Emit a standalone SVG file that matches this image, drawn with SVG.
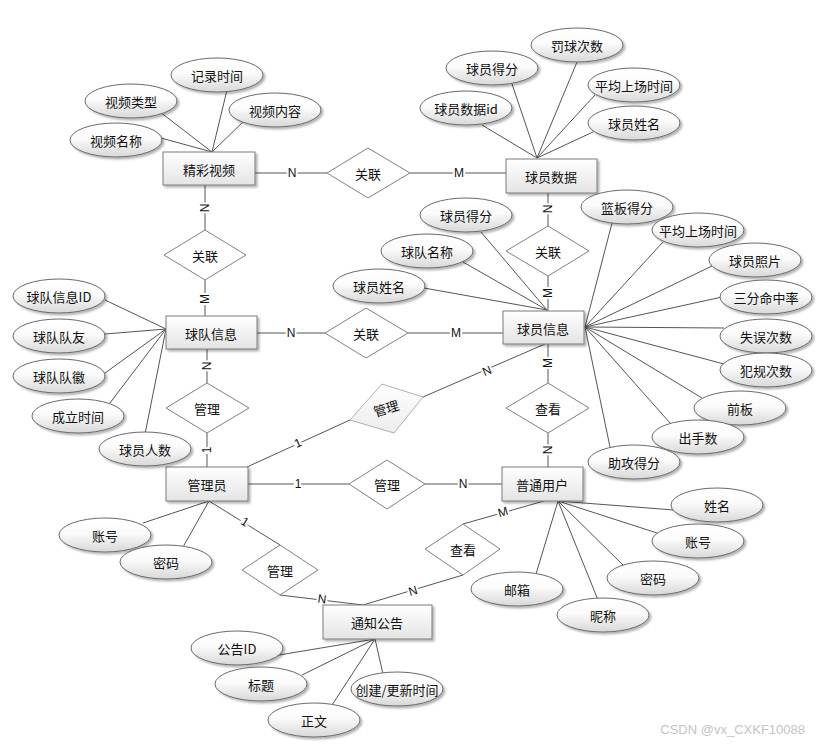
<svg xmlns="http://www.w3.org/2000/svg" width="822" height="745" viewBox="0 0 822 745">
<defs>
<linearGradient id="gRect" x1="0" y1="0" x2="0" y2="1"><stop offset="0" stop-color="#ffffff"/><stop offset="1" stop-color="#e4e4e4"/></linearGradient>
<linearGradient id="gEll" x1="0" y1="0" x2="0" y2="1"><stop offset="0" stop-color="#ffffff"/><stop offset="0.45" stop-color="#fbfbfb"/><stop offset="1" stop-color="#d8d8d8"/></linearGradient>
<linearGradient id="gDia" x1="0" y1="0" x2="0" y2="1"><stop offset="0" stop-color="#ffffff"/><stop offset="1" stop-color="#ececec"/></linearGradient>
<filter id="sh" x="-20%" y="-20%" width="140%" height="150%"><feDropShadow dx="2" dy="2" stdDeviation="1.2" flood-color="#000" flood-opacity="0.3"/></filter>
</defs>
<style>
.ent rect{fill:url(#gRect);stroke:#7a7a7a;stroke-width:1;filter:url(#sh)}
.att ellipse{fill:url(#gEll);stroke:#6a6a6a;stroke-width:1;filter:url(#sh)}
.rel polygon{fill:#fff;stroke:#808080;stroke-width:1}
.rel.light polygon{fill:url(#gDia);stroke:#b0b0b0}
text{font-family:"Noto Sans CJK SC","Noto Sans",sans-serif;font-size:13px;fill:#111;text-anchor:middle;dominant-baseline:central}
.conn line{stroke:#555;stroke-width:1}
.lb{font-family:"Liberation Sans",Arial,sans-serif;font-size:12px;stroke:#fff;stroke-width:4;paint-order:stroke;fill:#111}
.wm{font-family:"Liberation Sans",Arial,sans-serif;font-size:13px;fill:#c4c4c4;text-anchor:end}
</style>
<rect width="822" height="745" fill="#fff"/>
<g id="connectors" class="conn">
<line x1="255" y1="173" x2="327" y2="173"/>
<line x1="410" y1="173" x2="506" y2="173"/>
<line x1="205" y1="185" x2="205" y2="230"/>
<line x1="205" y1="280" x2="205" y2="316"/>
<line x1="257" y1="333" x2="325" y2="333"/>
<line x1="408" y1="333" x2="503" y2="333"/>
<line x1="207" y1="349" x2="207" y2="383"/>
<line x1="207" y1="433" x2="207" y2="467"/>
<line x1="248" y1="484" x2="349" y2="484"/>
<line x1="425" y1="484" x2="502" y2="484"/>
<line x1="548" y1="193" x2="548" y2="226"/>
<line x1="548" y1="276" x2="548" y2="311"/>
<line x1="548" y1="344" x2="548" y2="383"/>
<line x1="548" y1="433" x2="548" y2="467"/>
<line x1="247" y1="467" x2="350" y2="420"/>
<line x1="423" y1="397" x2="545" y2="344"/>
<line x1="209" y1="501" x2="280" y2="545"/>
<line x1="280" y1="595" x2="363" y2="605"/>
<line x1="544" y1="501" x2="463" y2="524"/>
<line x1="463" y1="575" x2="363" y2="605"/>
<!-- attribute lines -->
<line x1="212" y1="152" x2="150" y2="135"/>
<line x1="212" y1="152" x2="160" y2="112"/>
<line x1="212" y1="152" x2="227" y2="90"/>
<line x1="212" y1="152" x2="245" y2="120"/>
<line x1="537" y1="158" x2="482" y2="125"/>
<line x1="537" y1="158" x2="512" y2="84"/>
<line x1="537" y1="158" x2="577" y2="62"/>
<line x1="537" y1="158" x2="595" y2="95"/>
<line x1="537" y1="158" x2="593" y2="132"/>
<line x1="547" y1="310" x2="481" y2="232"/>
<line x1="547" y1="310" x2="463" y2="262"/>
<line x1="547" y1="310" x2="424" y2="288"/>
<line x1="585" y1="327" x2="612" y2="223"/>
<line x1="585" y1="327" x2="663" y2="242"/>
<line x1="585" y1="327" x2="712" y2="266"/>
<line x1="585" y1="327" x2="722" y2="297"/>
<line x1="585" y1="327" x2="724" y2="328"/>
<line x1="585" y1="327" x2="724" y2="364"/>
<line x1="585" y1="327" x2="702" y2="398"/>
<line x1="585" y1="327" x2="670" y2="423"/>
<line x1="585" y1="327" x2="610" y2="447"/>
<line x1="166" y1="329" x2="105" y2="300"/>
<line x1="166" y1="329" x2="105" y2="334"/>
<line x1="166" y1="329" x2="105" y2="373"/>
<line x1="166" y1="329" x2="110" y2="403"/>
<line x1="166" y1="329" x2="145" y2="434"/>
<line x1="209" y1="501" x2="143" y2="523"/>
<line x1="209" y1="501" x2="183" y2="547"/>
<line x1="375" y1="639" x2="267" y2="657"/>
<line x1="375" y1="639" x2="302" y2="675"/>
<line x1="375" y1="639" x2="332" y2="705"/>
<line x1="375" y1="639" x2="383" y2="674"/>
<line x1="558" y1="501" x2="674" y2="510"/>
<line x1="558" y1="501" x2="657" y2="533"/>
<line x1="558" y1="501" x2="623" y2="565"/>
<line x1="558" y1="501" x2="598" y2="600"/>
<line x1="558" y1="501" x2="536" y2="574"/>
<!-- cardinality labels -->
<text class="lb" x="292" y="173">N</text>
<text class="lb" x="459" y="173">M</text>
<text class="lb" transform="translate(205,208) rotate(-90)">N</text>
<text class="lb" transform="translate(205,299) rotate(-90)">M</text>
<text class="lb" x="291" y="333">N</text>
<text class="lb" x="456" y="333">M</text>
<text class="lb" transform="translate(207,366) rotate(-90)">N</text>
<text class="lb" transform="translate(207,450) rotate(-90)">1</text>
<text class="lb" x="298" y="484">1</text>
<text class="lb" x="463" y="484">N</text>
<text class="lb" transform="translate(548,209) rotate(-90)">N</text>
<text class="lb" transform="translate(548,293) rotate(-90)">M</text>
<text class="lb" transform="translate(548,363) rotate(-90)">M</text>
<text class="lb" transform="translate(548,450) rotate(-90)">N</text>
<text class="lb" transform="translate(298,443) rotate(-24)">1</text>
<text class="lb" transform="translate(487,371) rotate(-23)">N</text>
<text class="lb" transform="translate(245,522) rotate(32)">1</text>
<text class="lb" transform="translate(322,599) rotate(7)">N</text>
<text class="lb" transform="translate(503,512) rotate(-16)">M</text>
<text class="lb" transform="translate(413,591) rotate(-17)">N</text>
</g>
<g id="rel-video-pdata" class="rel"><polygon points="327,173 368,148 410,173 368,198"/><text x="368" y="173">关联</text></g>
<g id="rel-video-team" class="rel"><polygon points="164,255 205,230 246,255 205,280"/><text x="205" y="255">关联</text></g>
<g id="rel-pdata-pinfo" class="rel"><polygon points="506,251 548,226 589,251 548,276"/><text x="548" y="251">关联</text></g>
<g id="rel-team-pinfo" class="rel"><polygon points="325,333 366,308 408,333 366,358"/><text x="366" y="333">关联</text></g>
<g id="rel-team-admin" class="rel"><polygon points="166,408 207,383 249,408 207,433"/><text x="207" y="408">管理</text></g>
<g id="rel-pinfo-user" class="rel"><polygon points="506,408 548,383 589,408 548,433"/><text x="548" y="408">查看</text></g>
<g id="rel-admin-user" class="rel"><polygon points="349,484 387,460 425,484 387,509"/><text x="387" y="484">管理</text></g>
<g id="rel-admin-notice" class="rel"><polygon points="242,570 280,545 318,570 280,595"/><text x="280" y="570">管理</text></g>
<g id="rel-user-notice" class="rel"><polygon points="425,549 463,524 500,549 463,575"/><text x="463" y="549">查看</text></g>
<g id="rel-admin-pinfo" class="rel light"><polygon points="350,420 382,384 423,397 394,433"/><text transform="translate(386,408) rotate(-17)">管理</text></g>
<g id="ent-video" class="ent"><rect x="163" y="152" width="92" height="33"/><text x="209" y="169">精彩视频</text></g>
<g id="ent-pdata" class="ent"><rect x="506" y="159" width="91" height="34"/><text x="551" y="176">球员数据</text></g>
<g id="ent-pinfo" class="ent"><rect x="503" y="311" width="81" height="33"/><text x="543" y="328">球员信息</text></g>
<g id="ent-team" class="ent"><rect x="166" y="316" width="91" height="33"/><text x="211" y="333">球队信息</text></g>
<g id="ent-admin" class="ent"><rect x="166" y="467" width="82" height="34"/><text x="207" y="484">管理员</text></g>
<g id="ent-user" class="ent"><rect x="502" y="467" width="81" height="34"/><text x="542" y="484">普通用户</text></g>
<g id="ent-notice" class="ent"><rect x="323" y="605" width="109" height="34"/><text x="377" y="622">通知公告</text></g>
<g id="att-v1" class="att"><ellipse cx="217" cy="75" rx="46" ry="17"/><text x="217" y="75">记录时间</text></g>
<g id="att-v2" class="att"><ellipse cx="131" cy="101" rx="46" ry="17"/><text x="131" y="101">视频类型</text></g>
<g id="att-v3" class="att"><ellipse cx="275" cy="110" rx="46" ry="17"/><text x="275" y="110">视频内容</text></g>
<g id="att-v4" class="att"><ellipse cx="116" cy="140" rx="46" ry="17"/><text x="116" y="140">视频名称</text></g>
<g id="att-d1" class="att"><ellipse cx="577" cy="45" rx="46" ry="17"/><text x="577" y="45">罚球次数</text></g>
<g id="att-d2" class="att"><ellipse cx="492" cy="68" rx="46" ry="17"/><text x="492" y="68">球员得分</text></g>
<g id="att-d3" class="att"><ellipse cx="634" cy="85" rx="46" ry="17"/><text x="634" y="85">平均上场时间</text></g>
<g id="att-d4" class="att"><ellipse cx="466" cy="108" rx="46" ry="17"/><text x="466" y="108">球员数据id</text></g>
<g id="att-d5" class="att"><ellipse cx="634" cy="123" rx="46" ry="17"/><text x="634" y="123">球员姓名</text></g>
<g id="att-p1" class="att"><ellipse cx="466" cy="215" rx="46" ry="17"/><text x="466" y="215">球员得分</text></g>
<g id="att-p2" class="att"><ellipse cx="627" cy="207" rx="46" ry="17"/><text x="627" y="207">篮板得分</text></g>
<g id="att-p3" class="att"><ellipse cx="698" cy="230" rx="46" ry="17"/><text x="698" y="230">平均上场时间</text></g>
<g id="att-p4" class="att"><ellipse cx="427" cy="251" rx="46" ry="17"/><text x="427" y="251">球队名称</text></g>
<g id="att-p5" class="att"><ellipse cx="755" cy="260" rx="46" ry="17"/><text x="755" y="260">球员照片</text></g>
<g id="att-p6" class="att"><ellipse cx="379" cy="286" rx="46" ry="17"/><text x="379" y="286">球员姓名</text></g>
<g id="att-p7" class="att"><ellipse cx="766" cy="297" rx="46" ry="17"/><text x="766" y="297">三分命中率</text></g>
<g id="att-p8" class="att"><ellipse cx="766" cy="336" rx="46" ry="17"/><text x="766" y="336">失误次数</text></g>
<g id="att-p9" class="att"><ellipse cx="766" cy="370" rx="46" ry="17"/><text x="766" y="370">犯规次数</text></g>
<g id="att-p10" class="att"><ellipse cx="740" cy="408" rx="46" ry="17"/><text x="740" y="408">前板</text></g>
<g id="att-p11" class="att"><ellipse cx="698" cy="437" rx="46" ry="17"/><text x="698" y="437">出手数</text></g>
<g id="att-p12" class="att"><ellipse cx="634" cy="462" rx="46" ry="17"/><text x="634" y="462">助攻得分</text></g>
<g id="att-t1" class="att"><ellipse cx="59" cy="296" rx="46" ry="17"/><text x="59" y="296">球队信息ID</text></g>
<g id="att-t2" class="att"><ellipse cx="59" cy="336" rx="46" ry="17"/><text x="59" y="336">球队队友</text></g>
<g id="att-t3" class="att"><ellipse cx="59" cy="376" rx="46" ry="17"/><text x="59" y="376">球队队徽</text></g>
<g id="att-t4" class="att"><ellipse cx="78" cy="416" rx="46" ry="17"/><text x="78" y="416">成立时间</text></g>
<g id="att-t5" class="att"><ellipse cx="145" cy="449" rx="46" ry="17"/><text x="145" y="449">球员人数</text></g>
<g id="att-a1" class="att"><ellipse cx="105" cy="535" rx="46" ry="17"/><text x="105" y="535">账号</text></g>
<g id="att-a2" class="att"><ellipse cx="166" cy="562" rx="46" ry="17"/><text x="166" y="562">密码</text></g>
<g id="att-n1" class="att"><ellipse cx="237" cy="648" rx="46" ry="17"/><text x="237" y="648">公告ID</text></g>
<g id="att-n2" class="att"><ellipse cx="261" cy="684" rx="46" ry="17"/><text x="261" y="684">标题</text></g>
<g id="att-n3" class="att"><ellipse cx="397" cy="689" rx="46" ry="17"/><text x="397" y="689">创建/更新时间</text></g>
<g id="att-n4" class="att"><ellipse cx="314" cy="720" rx="46" ry="17"/><text x="314" y="720">正文</text></g>
<g id="att-u1" class="att"><ellipse cx="717" cy="505" rx="46" ry="17"/><text x="717" y="505">姓名</text></g>
<g id="att-u2" class="att"><ellipse cx="698" cy="541" rx="46" ry="17"/><text x="698" y="541">账号</text></g>
<g id="att-u3" class="att"><ellipse cx="653" cy="578" rx="46" ry="17"/><text x="653" y="578">密码</text></g>
<g id="att-u4" class="att"><ellipse cx="517" cy="589" rx="46" ry="17"/><text x="517" y="589">邮箱</text></g>
<g id="att-u5" class="att"><ellipse cx="603" cy="615" rx="46" ry="17"/><text x="603" y="615">昵称</text></g>
<text class="wm" x="805" y="729">CSDN @vx_CXKF10088</text>
</svg>
